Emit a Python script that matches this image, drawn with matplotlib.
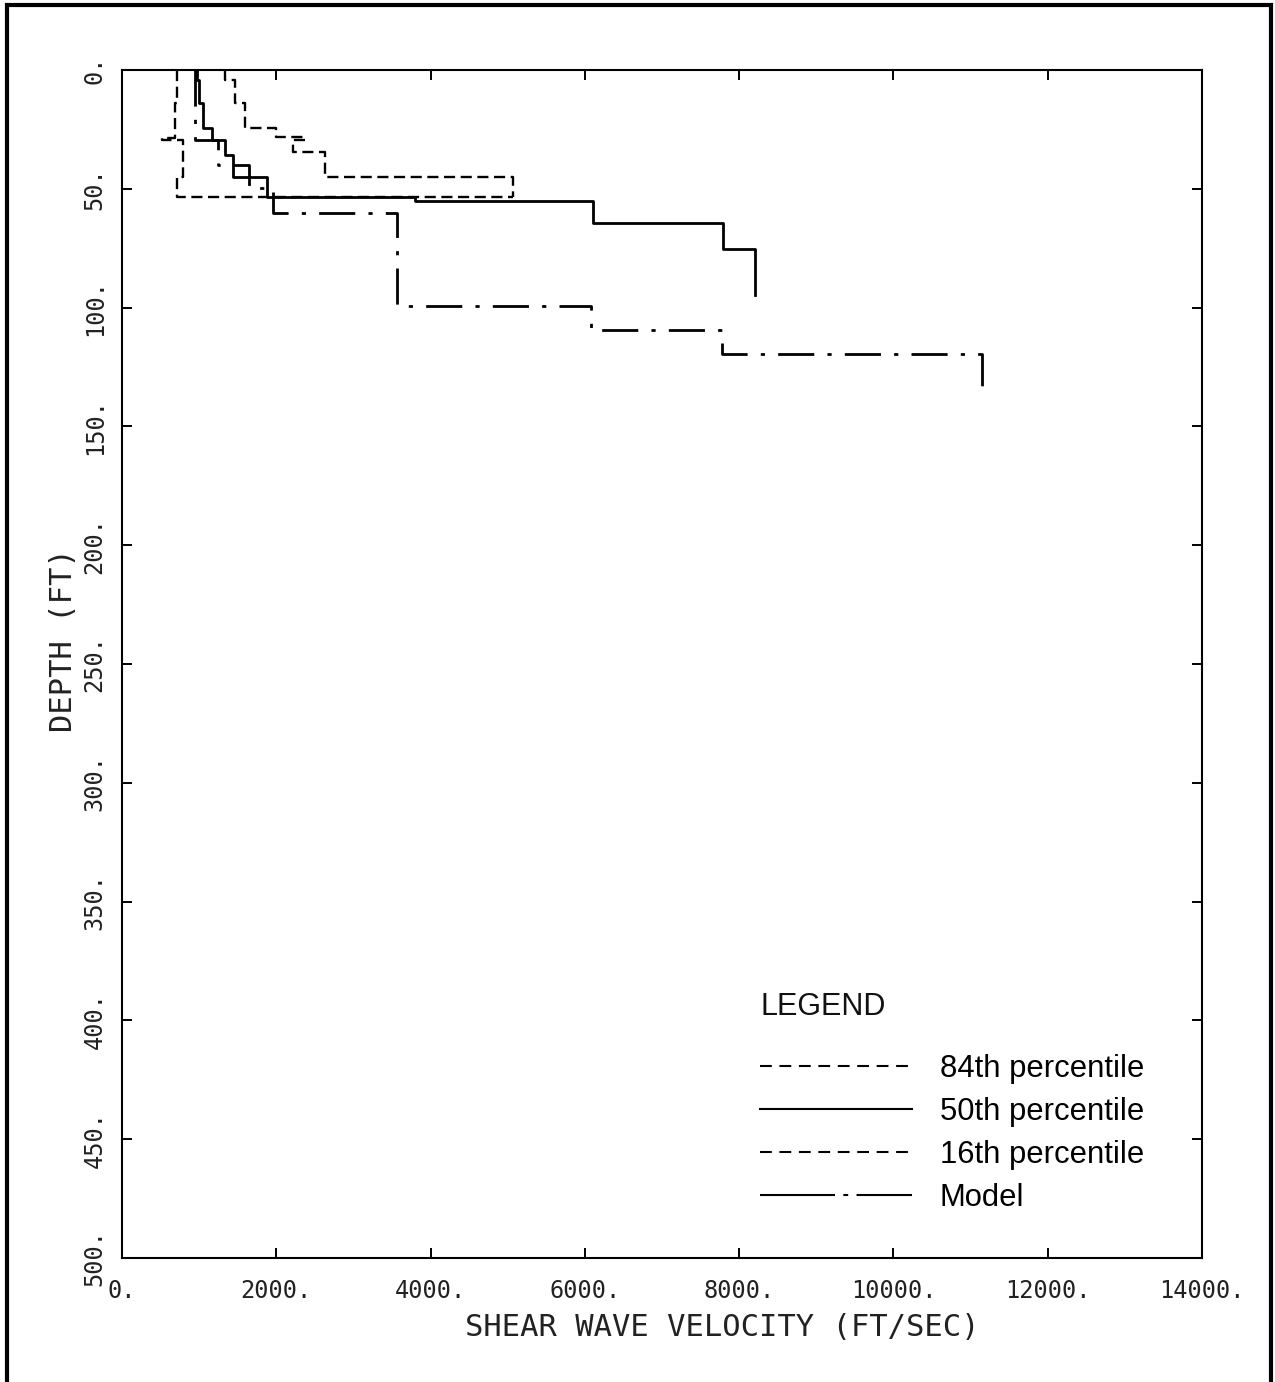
import numpy as np
import matplotlib.pyplot as plt
from matplotlib.lines import Line2D
from matplotlib.patches import Rectangle

# layer boundaries (ft) and shear wave velocities (ft/sec) of each profile
depth_84 = [0, 4.4, 14, 24.5, 28, 29.5, 34.4, 44.9, 53.4]
vs_84 = [1335, 1465, 1600, 2000, 2370, 2220, 2630, 5070]

depth_50 = [0, 4.4, 14, 24.6, 29.3, 35.8, 44.9, 53.4, 55, 64.5, 75.3, 94.7]
vs_50 = [968, 1002, 1054, 1162, 1335, 1444, 1876, 3800, 6100, 7790, 8200]

depth_16 = [0, 14, 28.5, 29.5, 45, 53.4, 53.4]
vs_16 = [717, 687, 515, 795, 710, 5070]

depth_model = [0, 29.3, 40, 49.7, 60, 99.3, 109.5, 119.4, 135.4]
vs_model = [950, 1250, 1650, 1960, 3560, 6080, 7780, 11150]

labels = ["84th percentile", "50th percentile", "16th percentile", "Model"]

x_ticks = np.arange(0, 14001, 2000)
y_ticks = np.arange(0, 501, 50)


def profile(depths, vs):
    # turn layer boundaries + velocities into a step outline
    d = np.asarray(depths, dtype=float)
    v = np.asarray(vs, dtype=float)
    x = np.repeat(v, 2)
    y = np.column_stack([d[:-1], d[1:]]).ravel()
    return x, y


plt.rcParams['lines.scale_dashes'] = False
mono = 'DejaVu Sans Mono'

fig = plt.figure(figsize=(12.75, 13.82), dpi=100)
ax = fig.add_axes([122 / 1275, 1 - 1258 / 1382, 1080 / 1275, 1188 / 1382])

dash = (0, (8, 4))
dashdot = (0, (26, 9.5, 3, 9.5))

x, y = profile(depth_84, vs_84)
ax.plot(x, y, color='k', lw=1.7, linestyle=dash)
x, y = profile(depth_50, vs_50)
ax.plot(x, y, color='k', lw=2.0)
x, y = profile(depth_16, vs_16)
ax.plot(x, y, color='k', lw=1.7, linestyle=dash)
x, y = profile(depth_model, vs_model)
ax.plot(x, y, color='k', lw=2.0, linestyle=dashdot)

ax.set_xlim(0, 14000)
ax.set_ylim(500, 0)
ax.set_xticks(x_ticks)
ax.set_yticks(y_ticks)
ax.set_xticklabels([f"{t}." for t in x_ticks], family=mono, fontsize=17, color='#222222')
ax.set_yticklabels([f"{t}." for t in y_ticks], family=mono, fontsize=17, color='#222222',
                   rotation=90, va='center')
ax.tick_params(direction='in', length=7, width=1.4, top=True, right=True)
ax.tick_params(axis='x', pad=15)
ax.tick_params(axis='y', pad=11)
for s in ax.spines.values():
    s.set_linewidth(1.5)

ax.set_xlabel("SHEAR WAVE VELOCITY (FT/SEC)", family=mono, fontsize=22, color='#222222')
ax.set_ylabel("DEPTH (FT)", family=mono, fontsize=22, color='#222222')
ax.xaxis.set_label_coords(0.556, -0.046)
ax.yaxis.set_label_coords(-0.041, 0.52)

# legend
handles = [
    Line2D([], [], color='k', lw=1.5, linestyle=(0, (8.5, 5.5))),
    Line2D([], [], color='k', lw=1.5),
    Line2D([], [], color='k', lw=1.5, linestyle=(0, (8.5, 5.5))),
    Line2D([], [], color='k', lw=1.5, linestyle=(0, (54, 6, 3.5, 6, 60))),
]
ax.text(0.591, 0.2110, "LEGEND", transform=ax.transAxes, fontsize=22,
        family='Liberation Sans', va='center', ha='left', color='#111111')
ax.legend(handles, labels, loc='upper left', bbox_to_anchor=(0.591, 0.172),
          frameon=False, borderpad=0, borderaxespad=0, handlelength=4.9,
          handletextpad=0.9, labelspacing=0.42,
          prop={'family': 'Liberation Sans', 'size': 22.3})

# outer frame
fig.patches.append(Rectangle((7 / 1275, -0.05), 1264 / 1275, 1.05 - 5 / 1382,
                             transform=fig.transFigure, fill=False, lw=3, ec='k'))

fig.savefig("out.png", dpi=100)
